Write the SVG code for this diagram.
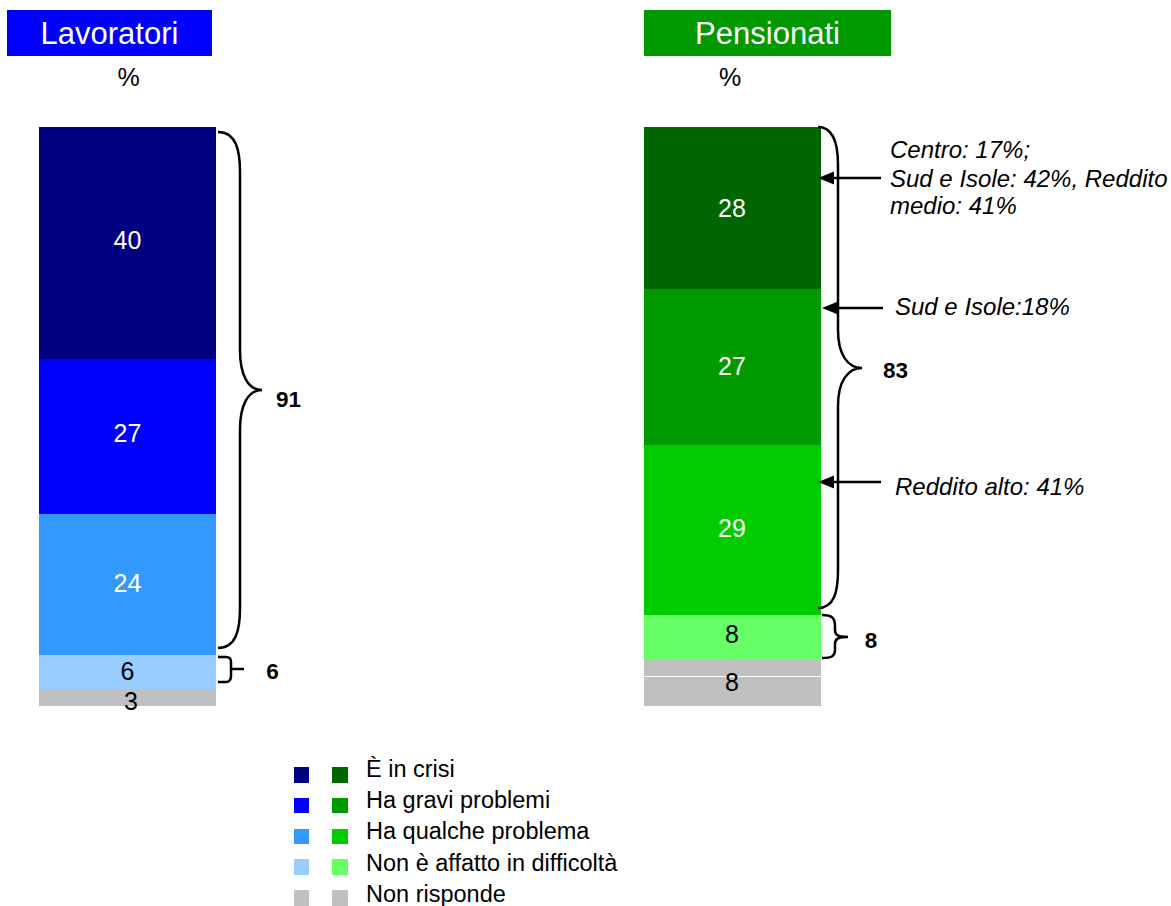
<svg xmlns="http://www.w3.org/2000/svg" width="1171" height="906" viewBox="0 0 1171 906">
<style>
text{font-family:"Liberation Sans",Arial,sans-serif}
.hdr{font-size:31px;fill:#fff;text-anchor:middle}
.pct{font-size:25px;fill:#000;text-anchor:middle}
.val{font-size:25px;fill:#fff;text-anchor:middle}
.valk{font-size:25px;fill:#000;text-anchor:middle}
.tot{font-size:22.5px;font-weight:bold;fill:#000;text-anchor:middle}
.ann{font-size:24px;font-style:italic;fill:#000}
.leg{font-size:23.5px;fill:#000}
.br{fill:none;stroke:#000;stroke-width:2.5}
.arr{stroke:#000;stroke-width:2.5;fill:none}
.ah{fill:#000}
</style>
<rect width="1171" height="906" fill="#fff"/>

<g id="header-lavoratori">
<rect x="7" y="10" width="205" height="46" fill="#0000FF"/>
<text class="hdr" x="109.5" y="44">Lavoratori</text>
<text class="pct" x="128.5" y="85.5">%</text>
</g>
<g id="header-pensionati">
<rect x="644" y="10" width="247" height="46" fill="#009900"/>
<text class="hdr" x="767.5" y="44">Pensionati</text>
<text class="pct" x="730" y="85.5">%</text>
</g>

<g id="bar-lavoratori">
<rect x="39" y="127" width="177" height="232" fill="#000080"/>
<rect x="39" y="359" width="177" height="155" fill="#0000FF"/>
<rect x="39" y="514" width="177" height="141" fill="#3399FF"/>
<rect x="39" y="655" width="177" height="34" fill="#99CCFF"/>
<rect x="39" y="689" width="177" height="17" fill="#C0C0C0"/>
<text class="val" x="127.5" y="249">40</text>
<text class="val" x="127.5" y="442">27</text>
<text class="val" x="127.5" y="592">24</text>
<text class="valk" x="127.5" y="680">6</text>
<text class="valk" x="131" y="710">3</text>
</g>

<g id="bar-pensionati">
<rect x="644" y="127" width="177" height="162" fill="#006600"/>
<rect x="644" y="289" width="177" height="156" fill="#009900"/>
<rect x="644" y="445" width="177" height="170" fill="#00CC00"/>
<rect x="644" y="615" width="177" height="44" fill="#66FF66"/>
<rect x="644" y="659" width="177" height="47" fill="#C0C0C0"/>
<line x1="644" y1="676.5" x2="821" y2="676.5" stroke="#fff" stroke-width="1"/>
<text class="val" x="732" y="217">28</text>
<text class="val" x="732" y="375">27</text>
<text class="val" x="732" y="537">29</text>
<text class="valk" x="732" y="643">8</text>
<text class="valk" x="732" y="691">8</text>
</g>

<g id="connectors">
<path class="br" d="M218,132 C236,132 240,150 240,172 L240,350 C240,375 248,390 262,390 C248,390 240,405 240,430 L240,608 C240,630 236,648 218,648"/>
<path class="br" d="M218,657 L226,657 Q231,657 231,662 L231,676 Q231,682 226,682 L218,682 M231,669 L244,669"/>
<path class="br" d="M818,127 C834,127 838,145 838,165 L838,330 C838,355 848,368 862,368 C848,368 838,381 838,406 L838,570 C838,592 834,608 818,608"/>
<path class="br" d="M822,615 C832,615 835,618 835,626 L835,630 C835,635 838,637 848,637 C838,637 835,639 835,644 L835,650 C835,656 832,658 822,658"/>
<line class="arr" x1="881" y1="178" x2="830" y2="178"/>
<polygon class="ah" points="818,178 834,171.5 834,184.5"/>
<line class="arr" x1="883" y1="308" x2="834" y2="308"/>
<polygon class="ah" points="822,308 838,301.5 838,314.5"/>
<line class="arr" x1="881" y1="482" x2="830" y2="482"/>
<polygon class="ah" points="818,482 834,475.5 834,488.5"/>
</g>

<g id="totals">
<text class="tot" x="288.5" y="407">91</text>
<text class="tot" x="272.5" y="679">6</text>
<text class="tot" x="895.5" y="378">83</text>
<text class="tot" x="871" y="648">8</text>
</g>

<g id="annotations">
<text class="ann" x="890" y="158">Centro: 17%;</text>
<text class="ann" x="890" y="187">Sud e Isole: 42%, Reddito</text>
<text class="ann" x="890" y="214">medio: 41%</text>
<text class="ann" x="895" y="315">Sud e Isole:18%</text>
<text class="ann" x="895" y="495">Reddito alto: 41%</text>
</g>

<g id="legend">
<rect x="294" y="767" width="15" height="16" fill="#000080"/>
<rect x="332" y="767" width="16" height="16" fill="#006600"/>
<text class="leg" x="366" y="777">È in crisi</text>
<rect x="294" y="798" width="15" height="15" fill="#0000FF"/>
<rect x="332" y="798" width="16" height="15" fill="#009900"/>
<text class="leg" x="366" y="808">Ha gravi problemi</text>
<rect x="294" y="829" width="15" height="15" fill="#3399FF"/>
<rect x="332" y="829" width="16" height="15" fill="#00CC00"/>
<text class="leg" x="366" y="839">Ha qualche problema</text>
<rect x="294" y="859" width="15" height="16" fill="#99CCFF"/>
<rect x="332" y="859" width="16" height="16" fill="#66FF66"/>
<text class="leg" x="366" y="871">Non è affatto in difficoltà</text>
<rect x="294" y="890" width="15" height="16" fill="#C0C0C0"/>
<rect x="332" y="890" width="16" height="16" fill="#C0C0C0"/>
<text class="leg" x="366" y="902">Non risponde</text>
</g>
</svg>
